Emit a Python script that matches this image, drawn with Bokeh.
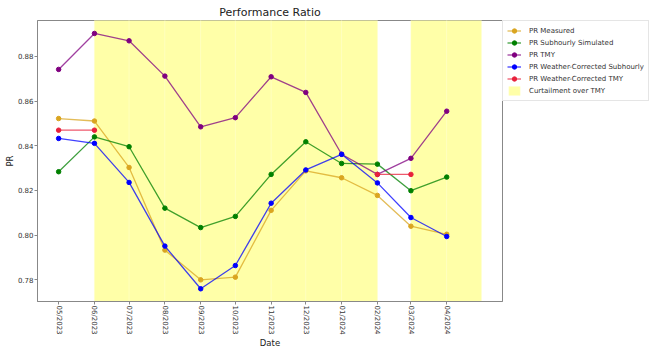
import numpy as np
import pandas as pd
from bokeh.plotting import figure
from bokeh.models import (FixedTicker, DatetimeTickFormatter, NumeralTickFormatter,
                          Legend, LegendItem, Range1d)
from bokeh.embed import file_html
from bokeh.resources import INLINE

# Monthly performance ratio series
months = ["2023-05", "2023-06", "2023-07", "2023-08", "2023-09", "2023-10",
          "2023-11", "2023-12", "2024-01", "2024-02", "2024-03", "2024-04"]
pr_measured = [0.8522, 0.8511, 0.8303, 0.7933, 0.7800, 0.7812,
               0.8111, 0.8288, 0.8257, 0.8178, 0.8040, 0.8004]
pr_subhourly_sim = [0.8284, 0.8440, 0.8396, 0.8121, 0.8034, 0.8084,
                    0.8272, 0.8418, 0.8321, 0.8318, 0.8199, 0.8260]
pr_tmy = [0.8742, 0.8903, 0.8870, 0.8712, 0.8485, 0.8526,
          0.8709, 0.8639, 0.8362, 0.8272, 0.8344, 0.8555]
pr_wc_subhourly = [0.8433, 0.8411, 0.8236, 0.7951, 0.7760, 0.7864,
                   0.8143, 0.8292, 0.8362, 0.8234, 0.8079, 0.7994]
pr_wc_tmy = [0.8470, 0.8470, np.nan, np.nan, np.nan, np.nan,
             np.nan, np.nan, np.nan, 0.8272, 0.8272, np.nan]

# Months flagged as curtailed relative to TMY
curtailed_months = ["2023-06", "2023-07", "2023-08", "2023-09", "2023-10",
                    "2023-11", "2023-12", "2024-01", "2024-03", "2024-04"]

y_ticks = [0.78, 0.80, 0.82, 0.84, 0.86, 0.88]

dates = pd.to_datetime(months)
c_start = pd.to_datetime(curtailed_months)
c_end = c_start + pd.offsets.MonthBegin(1)

FONT = "DejaVu Sans"

span_lo = dates.min()
span_hi = c_end.max()
pad = (span_hi - span_lo) * 0.05

p = figure(x_axis_type="datetime", output_backend="svg", toolbar_location=None,
           frame_width=465, frame_height=281,
           min_border_left=37, min_border_right=0, min_border_top=20, min_border_bottom=46,
           x_range=Range1d(span_lo - pad, span_hi + pad),
           y_range=Range1d(0.7703, 0.8961),
           title="Performance Ratio")

p.title.align = "center"
p.title.text_font = FONT
p.title.text_font_size = "11px"
p.title.text_font_style = "normal"
p.title.text_color = "#222222"
p.title.standoff = 3

p.xgrid.visible = False
p.ygrid.visible = False
p.outline_line_color = "#888888"
p.outline_line_width = 1
p.background_fill_color = "white"
p.border_fill_color = "white"

shade = p.quad(left=c_start, right=c_end, bottom=0.0, top=1.0,
               fill_color="#ffffa8", fill_alpha=1.0,
               line_color="#ffffc4", line_width=1, line_alpha=0.5)

series = [
    ("PR Measured", pr_measured, "goldenrod"),
    ("PR Subhourly Simulated", pr_subhourly_sim, "green"),
    ("PR TMY", pr_tmy, "purple"),
    ("PR Weather-Corrected Subhourly", pr_wc_subhourly, "blue"),
    ("PR Weather-Corrected TMY", pr_wc_tmy, "#e8213c"),
]

items = []
for label, vals, color in series:
    ln = p.line(dates, vals, line_color=color, line_width=1.3, line_alpha=0.75)
    sc = p.scatter(dates, vals, size=4.5, fill_color=color, line_color=color)
    items.append(LegendItem(label=label, renderers=[ln, sc]))
items.append(LegendItem(label="Curtailment over TMY", renderers=[shade]))

# x axis: month ticks
p.xaxis.ticker = FixedTicker(ticks=[d.value // 10**6 for d in dates])
fmt = "%m/%Y"
p.xaxis.formatter = DatetimeTickFormatter(milliseconds=fmt, seconds=fmt, minsec=fmt,
                                          minutes=fmt, hourmin=fmt, hours=fmt,
                                          days=fmt, months=fmt, years=fmt)
p.xaxis.major_label_orientation = "vertical"
p.xaxis.axis_label = "Date"

p.yaxis.ticker = FixedTicker(ticks=y_ticks)
p.yaxis.formatter = NumeralTickFormatter(format="0.00")
p.yaxis.axis_label = "PR"

for ax in (p.xaxis[0], p.yaxis[0]):
    ax.major_label_text_font = FONT
    ax.major_label_text_font_size = "7px"
    ax.major_label_text_color = "#333333"
    ax.axis_label_text_font = FONT
    ax.axis_label_text_font_size = "8.5px"
    ax.axis_label_text_font_style = "normal"
    ax.axis_label_text_color = "#222222"
    ax.axis_line_color = "#888888"
    ax.major_tick_line_color = "#888888"
    ax.major_tick_out = 3
    ax.major_tick_in = 0
    ax.minor_tick_out = 0
    ax.minor_tick_in = 0
    ax.major_label_standoff = 1
    ax.axis_label_standoff = 0

legend = Legend(items=items, location="top_left")
legend.label_text_font = FONT
legend.label_text_font_size = "7px"
legend.label_text_color = "#333333"
legend.label_height = 11
legend.glyph_height = 11
legend.glyph_width = 14
legend.label_standoff = 8
legend.spacing = 1
legend.padding = 4
legend.margin = 0
legend.border_line_color = "#cccccc"
legend.background_fill_alpha = 1.0
p.add_layout(legend, "right")

open("out.html", "w").write(file_html(p, INLINE))
